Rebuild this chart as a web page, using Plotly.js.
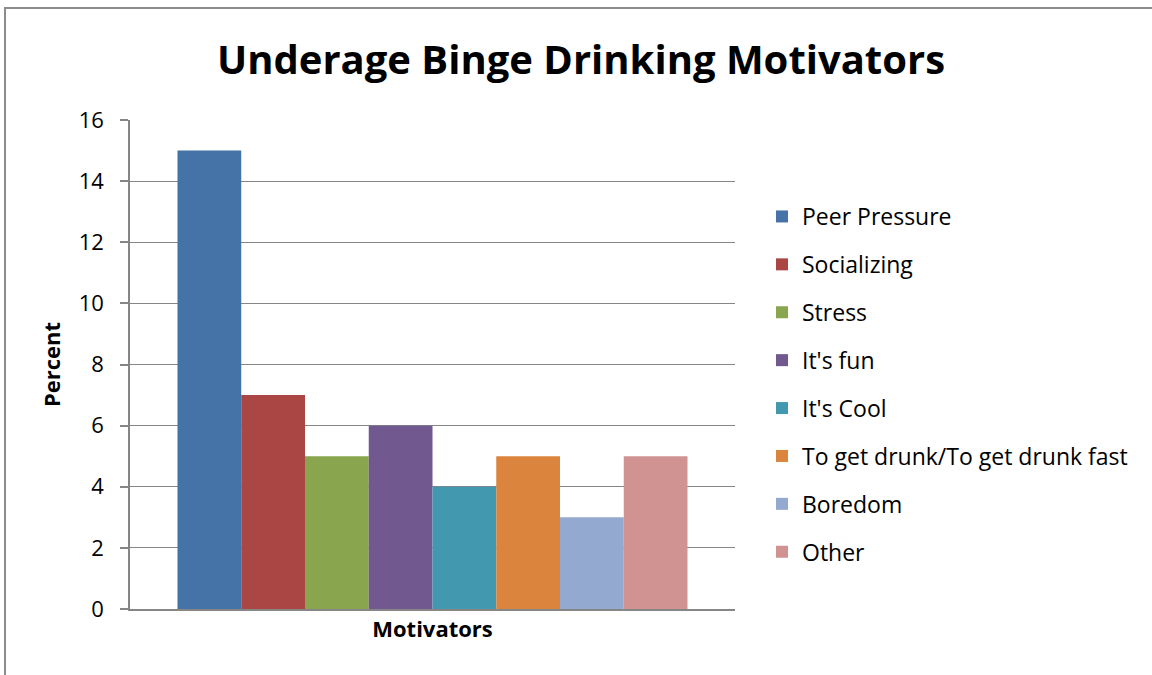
<!DOCTYPE html>
<html>
<head>
<meta charset="utf-8">
<script src="https://cdn.plot.ly/plotly-3.0.1.min.js"></script>
<style>
  html, body { margin: 0; padding: 0; background: #ffffff; }
  #frame { position: absolute; left: 4px; top: 7px; width: 1200px; height: 700px;
           border-top: 2px solid #8c8c8c; border-left: 2px solid #8c8c8c; }
  #chart { position: absolute; left: 0; top: 0; width: 1152px; height: 675px; }
</style>
</head>
<body>
<div id="frame"></div>
<div id="chart"></div>
<script>
const seriesNames = ['Peer Pressure', 'Socializing', 'Stress', "It's fun", "It's Cool",
                     'To get drunk/To get drunk fast', 'Boredom', 'Other'];
const seriesValues = [15, 7, 5, 6, 4, 5, 3, 5];
const seriesColors = ['#4572A7', '#AA4643', '#89A54E', '#71588F', '#4198AF', '#DB843D', '#93A9CF', '#D19392'];
const category = ['Motivators'];
const yTicks = [0, 2, 4, 6, 8, 10, 12, 14, 16];

const FONT = '"Open Sans", Calibri, sans-serif';

const traces = seriesNames.map((name, i) => ({
  type: 'bar',
  name: name,
  x: category,
  y: [seriesValues[i]],
  marker: { color: seriesColors[i], line: { width: 0 } },
  legendgroup: 'g' + i,
  hoverinfo: 'name+y'
}));

const layout = {
  width: 1152, height: 675,
  paper_bgcolor: 'rgba(0,0,0,0)', plot_bgcolor: 'rgba(0,0,0,0)',
  margin: { l: 130, r: 417, t: 120, b: 66, pad: 0, autoexpand: false },
  font: { family: FONT, color: '#000000', size: 22 },
  title: {
    text: '<b>Underage Binge Drinking Motivators</b>',
    font: { family: FONT, size: 40, color: '#000000' },
    x: 581 / 1152, xanchor: 'center', xref: 'container',
    y: 1 - 60 / 675, yanchor: 'middle', yref: 'container'
  },
  barmode: 'group',
  bargap: 0.157,
  bargroupgap: 0,
  showlegend: true,
  legend: {
    x: (762 - 130) / 605, xref: 'paper', xanchor: 'left',
    y: 1 - 195 / 675, yref: 'container', yanchor: 'top',
    font: { family: FONT, size: 23, color: '#000000' },
    traceorder: 'grouped', tracegroupgap: 15,
    maxheight: 640,
    bgcolor: 'rgba(0,0,0,0)', borderwidth: 0
  },
  xaxis: {
    type: 'category',
    showticklabels: false,
    ticks: '',
    tickfont: { size: 12 },
    showline: true, linecolor: '#868686', linewidth: 1.5,
    showgrid: false, zeroline: false,
    title: { text: '<b>Motivators</b>', font: { family: FONT, size: 22, color: '#000000' }, standoff: 12 }
  },
  yaxis: {
    range: [0, 16],
    tickvals: yTicks,
    ticktext: yTicks.map(String),
    ticks: 'outside', ticklen: 8, tickcolor: '#868686', tickwidth: 1.5,
    ticklabelstandoff: 12,
    tickfont: { family: FONT, size: 22, color: '#000000' },
    showline: true, linecolor: '#868686', linewidth: 1.5,
    showgrid: true, gridcolor: '#868686', gridwidth: 1.2,
    zeroline: false,
    title: { text: '<b>Percent</b>', font: { family: FONT, size: 22, color: '#000000' }, standoff: 12 }
  }
};

Plotly.newPlot('chart', traces, layout, { displayModeBar: false });
</script>
</body>
</html>
